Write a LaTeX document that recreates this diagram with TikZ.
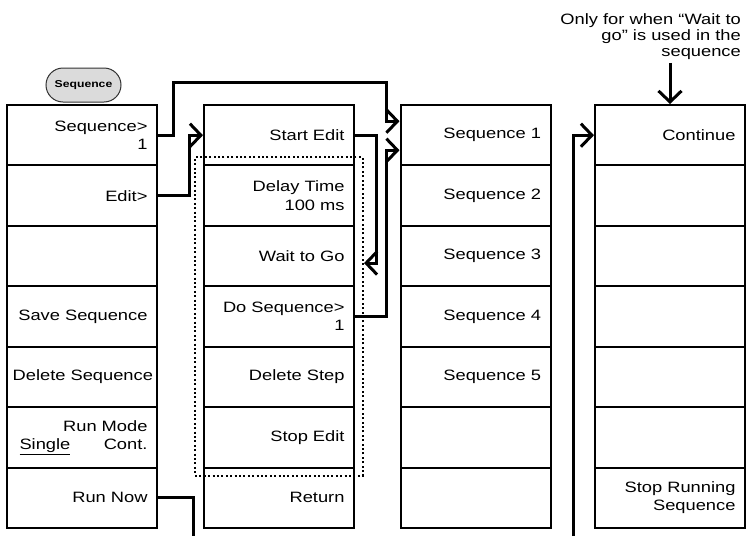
\documentclass[tikz,border=0pt]{standalone}
\usepackage{fontspec}
\setmainfont{Liberation Sans}[FakeStretch=1.22]
\usetikzlibrary{arrows.meta,fit,shapes.misc}

\begin{document}
\begin{tikzpicture}[x=1pt, y=-1pt,
  cell/.style={draw, line width=2pt, minimum width=150pt, minimum height=60.43pt, text width=131pt, inner xsep=9.5pt, align=right, font=\fontsize{15}{18.3}\selectfont},
  arr/.style={-{Straight Barb[length=11pt,width=23pt]}, line width=3pt},
  wire/.style={line width=3pt},
  softkey/.style={draw=black!80, line width=1pt, fill=black!14, rounded rectangle, minimum width=75pt, minimum height=34pt, inner sep=0pt, font=\bfseries\fontsize{10}{12}\selectfont},
  dotbox/.style={draw, line width=2pt, dash pattern=on 2pt off 2.4pt, inner xsep=8pt, inner ysep=7pt},
  note/.style={align=right, inner sep=3pt, font=\fontsize{15}{16.3}\selectfont}
]
\useasboundingbox (0,0) rectangle (747,536);

\node[softkey] (key) at (83.5,85) {Sequence};

\node[cell] (c1r1) at (82,135.21) {Sequence>\\1};
\node[cell] (c1r2) at (82,195.64) {Edit>};
\node[cell] (c1r3) at (82,256.07) {};
\node[cell] (c1r4) at (82,316.5) {Save Sequence};
\node[cell, text width=142pt, inner xsep=4pt] (c1r5) at (82,376.93) {Delete Sequence};
\node[cell] (c1r6) at (82,437.36) {Run Mode\\\hspace*{3pt}\underline{Single}\hfill Cont.};
\node[cell] (c1r7) at (82,497.79) {Run Now};

\node[cell] (c2r1) at (279,135.21) {Start Edit};
\node[cell] (c2r2) at (279,195.64) {Delay Time\\100 ms};
\node[cell] (c2r3) at (279,256.07) {Wait to Go};
\node[cell] (c2r4) at (279,316.5) {Do Sequence>\\1};
\node[cell] (c2r5) at (279,376.93) {Delete Step};
\node[cell] (c2r6) at (279,437.36) {Stop Edit};
\node[cell] (c2r7) at (279,497.79) {Return};

\node[cell] (c3r1) at (475.5,135.21) {Sequence 1};
\node[cell] (c3r2) at (475.5,195.64) {Sequence 2};
\node[cell] (c3r3) at (475.5,256.07) {Sequence 3};
\node[cell] (c3r4) at (475.5,316.5) {Sequence 4};
\node[cell] (c3r5) at (475.5,376.93) {Sequence 5};
\node[cell] (c3r6) at (475.5,437.36) {};
\node[cell] (c3r7) at (475.5,497.79) {};

\node[cell] (c4r1) at (670,135.21) {Continue};
\node[cell] (c4r2) at (670,195.64) {};
\node[cell] (c4r3) at (670,256.07) {};
\node[cell] (c4r4) at (670,316.5) {};
\node[cell] (c4r5) at (670,376.93) {};
\node[cell] (c4r6) at (670,437.36) {};
\node[cell] (c4r7) at (670,497.79) {Stop Running\\Sequence};

\node[dotbox, fit=(c2r2)(c2r6)] (editbox) {};

\node[note, anchor=north east] (note) at (744,10) {Only for when “Wait to\\go” is used in the\\sequence};

\path (editbox.east |- c2r3.east) coordinate (waitin);
\coordinate (runout) at (193,536);
\coordinate (runin) at (573,536);

\draw[arr] (c1r1.east) -- ++(15,0) |- ++(213,-53) |- ([yshift=14pt]c3r1.west);
\draw[arr] (c1r2.east) -- ++(31,0) |- (c2r1.west);
\draw[arr] (c2r1.east) -- ++(21,0) |- ([yshift=-7pt]waitin);
\draw[arr] (c2r4.east) -- ++(31,0) |- ([yshift=-15pt]c3r1.west);
\draw[wire] (c1r7.east) -| (runout);
\draw[arr] (runin) |- (c4r1.west);
\draw[arr] (c4r1.north |- note.south) -- (c4r1.north);
\end{tikzpicture}
\end{document}
